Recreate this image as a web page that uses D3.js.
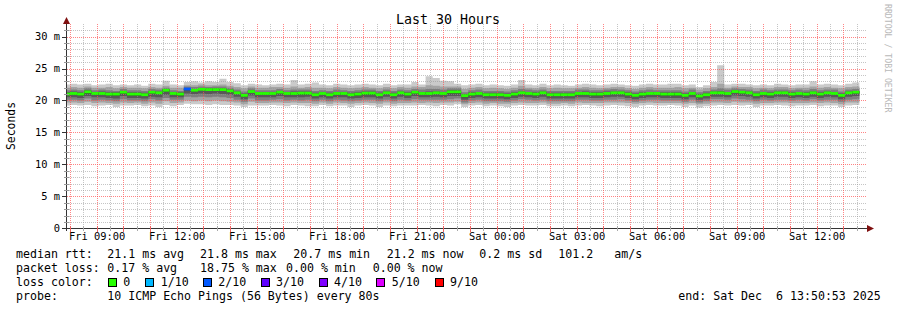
<!DOCTYPE html>
<html>
<head>
<meta charset="utf-8">
<title>Last 30 Hours</title>
<style>
  body { margin: 0; background: #fff; }
  svg { display: block; }
  text { font-family: "DejaVu Sans Mono", monospace; fill: #000; white-space: pre; }
  .axis text { font-size: 10.4px; }
  .legend text { font-size: 11.6px; }
</style>
</head>
<body>
<svg id="chart" width="897" height="310"></svg>
<script src="https://cdn.jsdelivr.net/npm/d3@7"></script>
<script>
// rtt values in ms, one entry per 16 min step (the first step is cut by the left edge)
const median = [
  21.0,21.1,21.0,21.35,21.1,21.1,21.0,21.0,21.3,21.0,21.0,20.9,21.3,21.2,21.6,21.1,
  21.0,21.8,21.6,21.75,21.7,21.7,21.7,21.5,21.2,20.8,21.4,21.1,21.1,21.1,21.3,21.1,
  21.1,21.15,21.15,20.9,21.1,20.9,21.1,21.1,20.9,21.0,21.15,21.15,20.9,21.2,20.9,21.2,
  21.0,21.3,21.1,21.1,21.2,21.1,21.35,21.35,20.75,21.0,21.1,20.9,20.9,20.9,20.8,21.0,
  21.2,21.1,21.0,21.2,20.9,20.9,20.9,20.9,21.1,21.1,21.0,21.0,21.1,21.2,21.2,21.0,
  20.8,21.0,21.1,21.1,21.0,21.0,21.0,20.8,21.1,20.7,20.9,21.2,21.2,21.1,21.4,21.3,
  21.2,20.9,21.1,21.0,21.2,21.2,21.0,21.1,21.0,21.2,21.0,21.2,21.1,20.8,21.2,21.3
];
// lost pings (out of 10) per step
const loss = [
  0,0,0,0,0,0,0,0,0,0,0,0,0,0,0,0,
  0,2,0,0,0,0,0,0,0,0,0,0,0,0,0,0,
  0,0,0,0,0,0,0,0,0,0,0,0,0,0,0,0,
  0,0,0,0,0,0,0,0,0,0,0,0,0,0,0,0,
  0,0,0,0,0,0,0,0,0,0,0,0,0,0,0,0,
  0,0,0,0,0,0,0,0,0,0,0,0,0,0,0,0,
  0,0,0,0,0,0,0,0,0,0,0,0,0,0,0,0
];
// sorted pings per step, ping1 = fastest, ping10 = slowest
const ping1 = [
  19.2,19.3,19.2,19.3,19.1,19.2,19.3,19.0,19.2,19.2,19.3,19.1,19.2,19.0,19.3,19.1,
  19.3,19.5,19.4,19.4,19.3,19.4,19.3,19.3,19.2,19.0,19.2,19.2,19.2,19.3,19.2,19.1,
  19.3,19.2,19.1,19.1,19.3,19.1,19.2,19.2,19.0,19.2,19.3,19.2,19.0,19.2,19.1,19.2,
  19.2,19.2,19.3,19.2,19.1,19.3,19.2,19.4,19.0,19.2,19.3,19.1,19.2,19.1,19.0,19.2,
  19.3,19.2,19.2,19.3,19.1,19.1,19.2,19.1,19.2,19.3,19.2,19.1,19.2,19.3,19.2,19.1,
  19.0,19.2,19.3,19.2,19.2,19.3,19.2,19.0,19.2,18.9,19.1,19.2,19.3,19.2,19.3,19.2,
  19.3,19.0,19.2,19.2,19.3,19.2,19.1,19.2,19.2,19.3,19.1,19.2,19.2,19.0,19.2,19.3
];
const ping2 = [
  19.7,19.7,19.6,19.8,19.6,19.7,19.6,19.5,19.7,19.6,19.7,19.5,19.7,19.5,19.9,19.6,
  19.7,20.0,19.9,20.0,19.9,20.0,19.9,19.8,19.7,19.4,19.8,19.6,19.6,19.7,19.7,19.6,
  19.7,19.6,19.6,19.5,19.7,19.5,19.7,19.6,19.5,19.6,19.7,19.6,19.5,19.7,19.5,19.6,
  19.6,19.7,19.6,19.7,19.6,19.7,19.7,19.8,19.4,19.6,19.7,19.5,19.6,19.5,19.5,19.6,
  19.7,19.6,19.6,19.7,19.5,19.5,19.6,19.5,19.7,19.6,19.6,19.6,19.7,19.7,19.7,19.6,
  19.5,19.6,19.7,19.6,19.6,19.6,19.6,19.5,19.6,19.4,19.5,19.7,19.7,19.6,19.8,19.7,
  19.7,19.5,19.6,19.6,19.7,19.7,19.6,19.6,19.6,19.7,19.6,19.7,19.6,19.4,19.7,19.7
];
const ping3 = [
  20.1,20.1,20.0,20.3,20.0,20.1,20.0,19.9,20.2,20.0,20.0,19.9,20.2,20.0,20.4,20.1,
  20.1,20.6,20.5,20.6,20.5,20.6,20.5,20.4,20.1,19.8,20.3,20.0,20.0,20.1,20.2,20.0,
  20.1,20.0,20.1,19.9,20.1,19.9,20.1,20.0,19.9,20.0,20.1,20.1,19.9,20.1,19.9,20.1,
  20.0,20.2,20.1,20.1,20.1,20.1,20.2,20.3,19.7,20.0,20.1,19.9,19.9,19.9,19.8,20.0,
  20.2,20.1,20.0,20.1,19.9,19.9,19.9,19.9,20.1,20.1,20.0,20.0,20.1,20.1,20.2,20.0,
  19.8,20.0,20.1,20.1,20.0,20.0,20.0,19.8,20.1,19.7,19.9,20.2,20.2,20.1,20.3,20.2,
  20.1,19.9,20.1,20.0,20.1,20.1,20.0,20.1,20.0,20.2,20.0,20.1,20.1,19.8,20.1,20.2
];
const ping4 = [
  20.5,20.5,20.4,20.7,20.5,20.5,20.4,20.3,20.7,20.4,20.4,20.3,20.6,20.5,20.9,20.5,
  20.5,21.1,21.0,21.1,21.0,21.1,21.0,20.9,20.6,20.2,20.8,20.5,20.5,20.5,20.7,20.5,
  20.5,20.5,20.6,20.3,20.5,20.3,20.5,20.5,20.3,20.4,20.5,20.5,20.3,20.6,20.3,20.6,
  20.4,20.7,20.5,20.5,20.6,20.5,20.7,20.7,20.1,20.4,20.5,20.3,20.3,20.3,20.2,20.4,
  20.6,20.5,20.4,20.6,20.3,20.3,20.3,20.3,20.5,20.5,20.4,20.4,20.5,20.6,20.6,20.4,
  20.2,20.4,20.5,20.5,20.4,20.4,20.4,20.2,20.5,20.1,20.3,20.6,20.6,20.5,20.8,20.7,
  20.6,20.3,20.5,20.4,20.6,20.6,20.4,20.5,20.4,20.6,20.4,20.6,20.5,20.2,20.6,20.7
];
const ping5 = [
  20.8,20.9,20.8,21.1,20.9,20.9,20.8,20.8,21.1,20.8,20.8,20.7,21.1,21.0,21.4,20.9,
  20.8,21.6,21.4,21.6,21.5,21.5,21.5,21.3,21.0,20.6,21.2,20.9,20.9,20.9,21.1,20.9,
  20.9,20.9,20.9,20.7,20.9,20.7,20.9,20.9,20.7,20.8,20.9,20.9,20.7,21.0,20.7,21.0,
  20.8,21.1,20.9,20.9,21.0,20.9,21.1,21.1,20.5,20.8,20.9,20.7,20.7,20.7,20.6,20.8,
  21.0,20.9,20.8,21.0,20.7,20.7,20.7,20.7,20.9,20.9,20.8,20.8,20.9,21.0,21.0,20.8,
  20.6,20.8,20.9,20.9,20.8,20.8,20.8,20.6,20.9,20.5,20.7,21.0,21.0,20.9,21.2,21.1,
  21.0,20.7,20.9,20.8,21.0,21.0,20.8,20.9,20.8,21.0,20.8,21.0,20.9,20.6,21.0,21.1
];
const ping6 = [
  21.1,21.2,21.1,21.4,21.2,21.2,21.1,21.1,21.4,21.1,21.1,21.0,21.4,21.3,21.7,21.2,
  21.1,21.8,21.7,21.8,21.8,21.8,21.8,21.6,21.3,20.9,21.5,21.2,21.2,21.2,21.4,21.2,
  21.2,21.2,21.2,21.0,21.2,21.0,21.2,21.2,21.0,21.1,21.2,21.2,21.0,21.3,21.0,21.3,
  21.1,21.4,21.2,21.2,21.3,21.2,21.4,21.4,20.8,21.1,21.2,21.0,21.0,21.0,20.9,21.1,
  21.3,21.2,21.1,21.3,21.0,21.0,21.0,21.0,21.2,21.2,21.1,21.1,21.2,21.3,21.3,21.1,
  20.9,21.1,21.2,21.2,21.1,21.1,21.1,20.9,21.2,20.8,21.0,21.3,21.3,21.2,21.5,21.4,
  21.3,21.0,21.2,21.1,21.3,21.3,21.1,21.2,21.1,21.3,21.1,21.3,21.2,20.9,21.3,21.4
];
const ping7 = [
  21.3,21.4,21.3,21.6,21.3,21.4,21.3,21.3,21.5,21.3,21.3,21.2,21.5,21.4,21.8,21.3,
  21.3,21.9,21.8,21.9,21.9,21.9,21.9,21.7,21.4,21.1,21.6,21.3,21.3,21.3,21.5,21.3,
  21.4,21.4,21.4,21.2,21.3,21.2,21.3,21.3,21.2,21.3,21.4,21.4,21.2,21.4,21.2,21.4,
  21.3,21.5,21.3,21.4,21.4,21.3,21.6,21.6,21.0,21.3,21.3,21.2,21.2,21.2,21.1,21.3,
  21.4,21.3,21.3,21.4,21.2,21.2,21.2,21.2,21.3,21.4,21.3,21.3,21.4,21.4,21.4,21.3,
  21.1,21.3,21.3,21.3,21.3,21.3,21.3,21.1,21.3,21.0,21.2,21.4,21.5,21.3,21.6,21.5,
  21.4,21.2,21.3,21.3,21.4,21.4,21.3,21.3,21.3,21.4,21.3,21.4,21.3,21.1,21.4,21.5
];
const ping8 = [
  21.6,21.7,21.6,21.9,21.6,21.7,21.6,21.5,21.8,21.6,21.6,21.5,21.8,21.7,22.0,21.6,
  21.5,22.2,22.1,22.2,22.1,22.2,22.2,22.0,21.7,21.4,21.9,21.6,21.6,21.6,21.8,21.6,
  21.7,21.7,21.7,21.5,21.6,21.5,21.7,21.6,21.5,21.6,21.7,21.7,21.5,21.7,21.5,21.7,
  21.6,21.8,21.7,21.8,21.8,21.7,21.9,21.9,21.3,21.6,21.7,21.5,21.5,21.5,21.4,21.6,
  21.8,21.7,21.6,21.7,21.5,21.5,21.5,21.5,21.7,21.7,21.6,21.6,21.7,21.8,21.7,21.6,
  21.4,21.6,21.7,21.6,21.6,21.6,21.6,21.4,21.7,21.3,21.5,21.7,21.9,21.7,21.9,21.8,
  21.7,21.5,21.7,21.6,21.7,21.7,21.6,21.7,21.6,21.8,21.6,21.7,21.7,21.4,21.7,21.8
];
const ping9 = [
  22.0,22.1,22.0,22.2,22.0,22.0,22.1,21.9,22.1,22.0,22.0,21.9,22.1,22.0,22.3,22.0,
  22.0,22.4,22.4,22.5,22.4,22.4,22.5,22.3,22.1,21.9,22.2,22.0,22.0,22.1,22.1,22.0,
  22.2,22.0,22.1,22.0,22.0,21.9,22.1,22.0,21.9,22.0,22.1,22.0,21.9,22.1,21.9,22.1,
  22.0,22.2,22.1,22.4,22.3,22.2,22.2,22.2,21.8,22.0,22.1,21.9,22.0,21.9,21.8,22.0,
  22.3,22.0,21.9,22.1,21.9,22.0,21.9,21.9,22.0,22.1,22.0,21.9,22.0,22.1,22.1,21.9,
  21.8,22.0,22.1,22.0,22.0,22.0,22.1,21.9,22.0,21.7,21.9,22.1,22.6,22.0,22.2,22.1,
  22.1,21.9,22.0,21.9,22.1,22.1,21.9,22.0,22.0,22.2,22.0,22.1,22.0,21.9,22.1,22.2
];
const ping10 = [
  22.5,22.6,22.5,22.6,22.4,22.5,22.6,22.4,22.5,22.4,22.5,22.3,22.6,22.5,23.1,22.5,
  22.4,22.9,23.0,22.8,23.0,22.9,23.4,22.9,22.7,22.4,22.6,22.5,22.4,22.5,22.6,22.5,
  23.2,22.5,22.6,22.8,22.5,22.4,22.6,22.5,22.4,22.5,22.6,22.5,22.4,22.6,22.4,22.5,
  22.5,22.9,22.5,23.8,23.5,23.1,23.0,22.6,22.4,22.5,22.6,22.4,22.5,22.4,22.3,22.5,
  23.2,22.5,22.4,22.6,22.4,22.5,22.4,22.3,22.5,22.6,22.5,22.4,22.5,22.6,22.5,22.4,
  22.3,22.5,22.6,22.5,22.5,22.6,22.6,22.4,22.5,22.1,22.4,22.9,25.5,22.5,22.6,22.6,
  22.5,22.4,22.5,22.4,22.6,22.5,22.4,22.5,22.5,23.0,22.5,22.6,22.5,22.4,22.6,22.8
];

const yTicks = [0, 5, 10, 15, 20, 25, 30];
const yTickLabels = ["0", "5 m", "10 m", "15 m", "20 m", "25 m", "30 m"];
const xTickLabels = ["Fri 09:00", "Fri 12:00", "Fri 15:00", "Fri 18:00", "Fri 21:00",
                     "Sat 00:00", "Sat 03:00", "Sat 06:00", "Sat 09:00", "Sat 12:00"];
const lossLabels = ["0", "1/10", "2/10", "3/10", "4/10", "5/10", "9/10"];
const lossLevels = [0, 1, 2, 3, 4, 5, 9];
const lossColors = ["#26ff00", "#00b8ff", "#0059ff", "#5e00ff", "#7e00ff", "#dd00ff", "#ff0000"];
const smokeColors = ["#cacaca", "#a4a4a4", "#7e7e7e", "#585858", "#323232"];

const STEP = 16 * 60 * 1000;
const tStart = Date.UTC(2025, 11, 5, 7, 50, 53),
      tEnd = Date.UTC(2025, 11, 6, 13, 50, 53),
      firstStep = Date.UTC(2025, 11, 5, 8, 0, 0);

const svg = d3.select('#chart');
const x = d3.scaleUtc().domain([tStart, tEnd]).range([66, 866]);
const y = d3.scaleLinear().domain([0, 32]).range([228.3, 23.8]);

const pings = [ping1, ping2, ping3, ping4, ping5, ping6, ping7, ping8, ping9, ping10];
const stepStart = i => i === 0 ? tStart : firstStep + (i - 1) * STEP;
const stepEnd = i => firstStep + i * STEP;

// smoke: nested bands of sorted pings, stepped
const pts = median.map((m, i) => ({ t: stepStart(i), i }));
pts.push({ t: stepEnd(median.length - 1), i: median.length - 1 });

const smoke = svg.append('g');
for (let b = 0; b < 5; b++) {
  const area = d3.area()
    .x(d => x(d.t))
    .y0(d => y(pings[b][d.i]))
    .y1(d => y(pings[9 - b][d.i]))
    .curve(d3.curveStepAfter);
  smoke.append('path').attr('d', area(pts)).attr('fill', smokeColors[b]);
}

// grid, drawn over the smoke like rrdtool does
const grid = svg.append('g').attr('shape-rendering', 'crispEdges');
const minorY = d3.range(1, 32).filter(v => v % 5 !== 0);
const majorY = d3.range(5, 32, 5);
const minorX = d3.utcMinute.every(30).range(new Date(tStart), new Date(tEnd))
  .filter(d => d.getUTCMinutes() === 30);
const majorX = d3.utcHour.range(new Date(tStart), new Date(tEnd));
const px = v => Math.round(v) + 0.5;

const minorCol = 'rgba(150,150,150,0.55)', majorCol = 'rgba(255,80,80,0.7)';
grid.selectAll(null).data(minorY).enter().append('line')
  .attr('x1', 67).attr('x2', 866)
  .attr('y1', d => px(y(d))).attr('y2', d => px(y(d)))
  .attr('stroke', minorCol).attr('stroke-dasharray', '1,1');
grid.selectAll(null).data(minorX).enter().append('line')
  .attr('x1', d => px(x(d))).attr('x2', d => px(x(d)))
  .attr('y1', 24).attr('y2', 228)
  .attr('stroke', minorCol).attr('stroke-dasharray', '1,1');
grid.selectAll(null).data(majorY).enter().append('line')
  .attr('x1', 67).attr('x2', 866)
  .attr('y1', d => px(y(d))).attr('y2', d => px(y(d)))
  .attr('stroke', majorCol).attr('stroke-dasharray', '1,1');
grid.selectAll(null).data(majorX).enter().append('line')
  .attr('x1', d => px(x(d))).attr('x2', d => px(x(d)))
  .attr('y1', 24).attr('y2', 228)
  .attr('stroke', majorCol).attr('stroke-dasharray', '1,1');

// median, coloured by loss
const lossColor = n => {
  let c = lossColors[0];
  lossLevels.forEach((lv, k) => { if (n >= lv) c = lossColors[k]; });
  return c;
};
svg.append('g').selectAll('rect').data(median).enter().append('rect')
  .attr('x', (d, i) => x(stepStart(i)))
  .attr('width', (d, i) => x(stepEnd(i)) - x(stepStart(i)))
  .attr('y', d => y(d) - 1.4)
  .attr('height', 2.8)
  .attr('fill', (d, i) => lossColor(loss[i]));

// axes
const axisCol = '#333', arrowCol = '#7f1010';
const ax = svg.append('g').attr('shape-rendering', 'crispEdges');
ax.append('line').attr('x1', 62).attr('x2', 868).attr('y1', 228.5).attr('y2', 228.5).attr('stroke', axisCol);
ax.append('line').attr('x1', 66.5).attr('x2', 66.5).attr('y1', 231).attr('y2', 22).attr('stroke', axisCol);
ax.selectAll(null).data(yTicks).enter().append('line')
  .attr('x1', 62).attr('x2', 66)
  .attr('y1', d => px(y(d))).attr('y2', d => px(y(d)))
  .attr('stroke', axisCol);
ax.selectAll(null).data(minorY).enter().append('line')
  .attr('x1', 64).attr('x2', 69)
  .attr('y1', d => px(y(d))).attr('y2', d => px(y(d)))
  .attr('stroke', '#999');
ax.selectAll(null).data(majorX).enter().append('line')
  .attr('x1', d => px(x(d))).attr('x2', d => px(x(d)))
  .attr('y1', 226).attr('y2', 232)
  .attr('stroke', '#f06060');
ax.selectAll(null).data(minorX).enter().append('line')
  .attr('x1', d => px(x(d))).attr('x2', d => px(x(d)))
  .attr('y1', 226).attr('y2', 231)
  .attr('stroke', '#aaa');
svg.append('path').attr('d', 'M63,24 L66.5,17 L70,24 Z').attr('fill', arrowCol);
svg.append('path').attr('d', 'M867,225 L874,228.5 L867,232 Z').attr('fill', arrowCol);

// tick labels via d3 axes (lines hidden)
const yAxis = d3.axisLeft(y).tickValues(yTicks)
  .tickFormat((d, i) => yTickLabels[i]).tickSize(0).tickPadding(0);
svg.append('g').attr('class', 'axis').attr('transform', 'translate(60,0)').call(yAxis)
  .call(g => g.select('.domain').remove())
  .selectAll('text').attr('fill', '#000').attr('font-family', null);

const xTickDates = xTickLabels.map((l, i) => new Date(Date.UTC(2025, 11, 5, 9 + 3 * i)));
const xAxis = d3.axisBottom(x).tickValues(xTickDates)
  .tickFormat((d, i) => xTickLabels[i]).tickSize(0).tickPadding(0);
svg.append('g').attr('class', 'axis').attr('transform', 'translate(0,233)').call(xAxis)
  .call(g => g.select('.domain').remove())
  .selectAll('text').attr('fill', '#000').attr('font-family', null);

// titles
svg.append('text').attr('x', 448).attr('y', 24).attr('text-anchor', 'middle')
  .style('font-size', '13.3px').text('Last 30 Hours');
svg.append('text').attr('transform', 'translate(15,126) rotate(-90)').attr('text-anchor', 'middle')
  .style('font-size', '11.4px').text('Seconds');
svg.append('text').attr('transform', 'translate(885,4) rotate(90)')
  .style('font-size', '8.2px').style('fill', '#b8b8b8').text('RRDTOOL / TOBI OETIKER');

// legend
const lg = svg.append('g').attr('class', 'legend');
const rows = [258.3, 272.3, 286.3, 300.3];
const put = (tx, x0, row) => lg.append('text').attr('x', x0).attr('y', rows[row]).text(tx);
put('median rtt:', 16, 0);
put('21.1 ms avg', 107.3, 0);
put('21.8 ms max', 200, 0);
put('20.7 ms min', 293.3, 0);
put('21.2 ms now', 386.7, 0);
put('0.2 ms sd', 479.3, 0);
put('101.2', 558.3, 0);
put('am/s', 614.3, 0);
put('packet loss:', 16, 1);
put('0.17 % avg', 107.3, 1);
put('18.75 % max', 200, 1);
put('0.00 % min', 286, 1);
put('0.00 % now', 372.7, 1);
put('loss color:', 16, 2);
const boxX = [108.5, 145.5, 203.5, 261.5, 319.5, 376.5, 435.5];
const labX = [123.3, 160.7, 218.3, 276, 334, 391.7, 450];
lossLabels.forEach((l, k) => {
  lg.append('rect').attr('x', boxX[k]).attr('y', 278.5).attr('width', 8).attr('height', 8)
    .attr('fill', lossColors[k]).attr('stroke', '#000').attr('shape-rendering', 'crispEdges');
  put(l, labX[k], 2);
});
put('probe:', 16, 3);
put('10 ICMP Echo Pings (56 Bytes) every 80s', 107.3, 3);
put('end: Sat Dec  6 13:50:53 2025', 678.3, 3);
</script>
</body>
</html>
